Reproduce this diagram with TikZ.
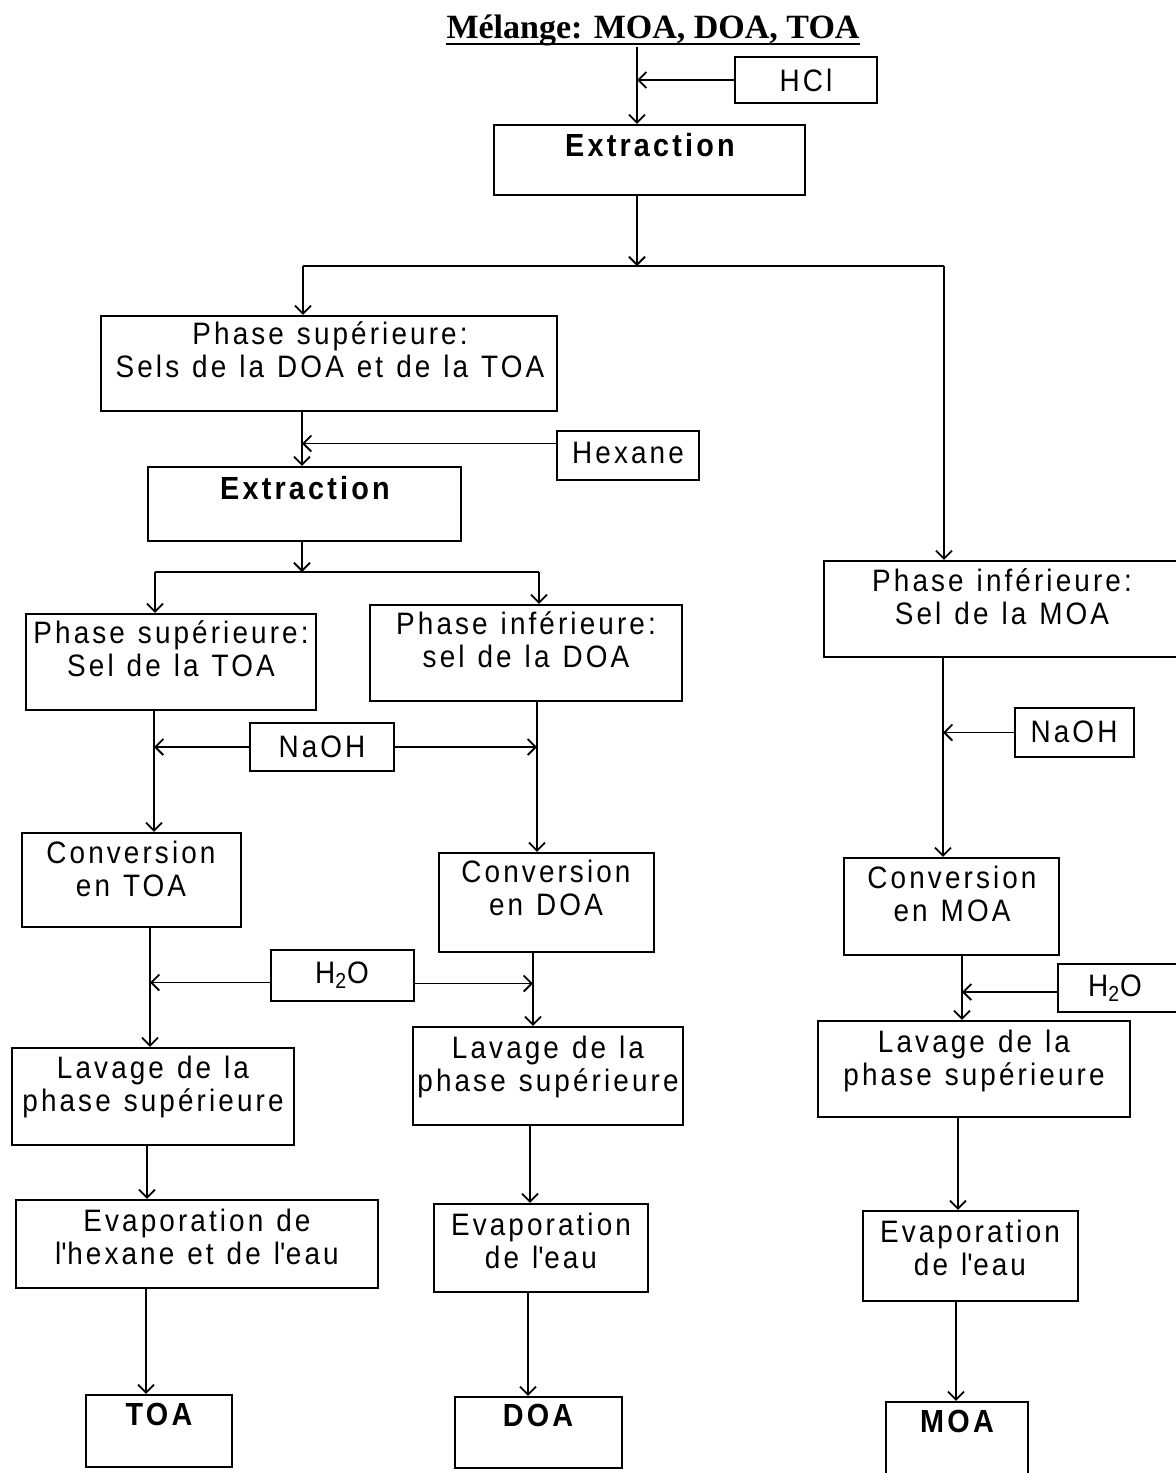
\documentclass[tikz,border=0pt]{standalone}
\usepackage{fontspec}
\setmainfont{Liberation Sans}[LetterSpace=10,FakeStretch=0.9,WordSpace=1.2]
\newfontfamily\titlefont{Liberation Serif}
\usetikzlibrary{arrows.meta,fit}
\tikzset{
  box/.style={draw, line width=1.2pt, inner sep=0pt},
  lab/.style={anchor=base, inner sep=0pt, font=\fontsize{15.5}{16.5}\selectfont},
  blab/.style={anchor=base, inner sep=0pt, font=\fontsize{16}{18}\selectfont\bfseries},
  arr/.style={line width=0.9pt, -{Straight Barb[length=4pt,width=8pt]}},
  ln/.style={line width=0.9pt}
}
\newcommand\twol[2]{\begin{tabular}[t]{@{}c@{}}#1\\#2\end{tabular}}
\newcommand\mkbox[5]{\node[box, fit={(#2,#3) (#4,#5)}] (#1) {};}
\newcommand\apos{\textquotesingle}
\begin{document}
\begin{tikzpicture}[x=0.5pt,y=-0.5pt]
\useasboundingbox (0,0) rectangle (1176,1473);
\clip (0,0) rectangle (1176,1473);
\fill[white] (0,0) rectangle (1176,1473);

% title
\node[anchor=base, inner sep=0pt, font=\titlefont\fontsize{17}{20}\selectfont\bfseries] (title) at (653,38) {Mélange: MOA, DOA, TOA};
\draw[line width=1.4pt] ([yshift=-3pt]title.base west) -- ([yshift=-3pt]title.base east);

% boxes
\mkbox{hcl}{735}{57}{877}{103}
\mkbox{ex1}{494}{125}{805}{195}
\mkbox{ps1}{101}{316}{557}{411}
\mkbox{hex}{557}{431}{699}{480}
\mkbox{ex2}{148}{467}{461}{541}
\mkbox{pstoa}{26}{614}{316}{710}
\mkbox{pidoa}{370}{605}{682}{701}
\mkbox{naoh1}{250}{723}{394}{771}
\mkbox{pimoa}{824}{561}{1200}{657}
\mkbox{naoh2}{1015}{708}{1134}{757}
\mkbox{convtoa}{22}{833}{241}{927}
\mkbox{convdoa}{439}{853}{654}{952}
\mkbox{convmoa}{844}{858}{1059}{955}
\mkbox{h2oa}{271}{950}{414}{1001}
\mkbox{h2ob}{1058}{964}{1200}{1012}
\mkbox{lavtoa}{12}{1048}{294}{1145}
\mkbox{lavdoa}{413}{1027}{683}{1125}
\mkbox{lavmoa}{818}{1021}{1130}{1117}
\mkbox{evtoa}{16}{1200}{378}{1288}
\mkbox{evdoa}{434}{1204}{648}{1292}
\mkbox{evmoa}{863}{1211}{1078}{1301}
\mkbox{toa}{86}{1395}{232}{1467}
\mkbox{doa}{455}{1397}{622}{1468}
\mkbox{moa}{886}{1402}{1028}{1490}

% texts
\node[lab] (hclt) at (806,91) {HCl};
\node[blab] (ex1t) at (650,156) {Extraction};
\node[lab] (ps1t) at (330,344) {\twol{Phase supérieure:}{Sels de la DOA et de la TOA}};
\node[lab] (hext) at (628,463) {Hexane};
\node[blab] (ex2t) at (305,499) {Extraction};
\node[lab] (pstoat) at (171,643) {\twol{Phase supérieure:}{Sel de la TOA}};
\node[lab] (pidoat) at (526,634) {\twol{Phase inférieure:}{sel de la DOA}};
\node[lab] (naoh1t) at (322,757) {NaOH};
\node[lab] (pimoat) at (1002,591) {\twol{Phase inférieure:}{Sel de la MOA}};
\node[lab] (naoh2t) at (1074,742) {NaOH};
\node[lab] (convtoat) at (131,863) {\twol{Conversion}{en TOA}};
\node[lab] (convdoat) at (546,882) {\twol{Conversion}{en DOA}};
\node[lab] (convmoat) at (952,888) {\twol{Conversion}{en MOA}};
\node[lab] (h2oat) at (342,983) {H\textsubscript{2}O};
\node[lab] (h2obt) at (1115,996) {H\textsubscript{2}O};
\node[lab] (lavtoat) at (153,1078) {\twol{Lavage de la}{phase supérieure}};
\node[lab] (lavdoat) at (548,1058) {\twol{Lavage de la}{phase supérieure}};
\node[lab] (lavmoat) at (974,1052) {\twol{Lavage de la}{phase supérieure}};
\node[lab] (evtoat) at (197,1231) {\twol{Evaporation de}{l\apos hexane et de l\apos eau}};
\node[lab] (evdoat) at (541,1235) {\twol{Evaporation}{de l\apos eau}};
\node[lab] (evmoat) at (970,1242) {\twol{Evaporation}{de l\apos eau}};
\node[blab] (toat) at (159,1425) {TOA};
\node[blab] (doat) at (538,1426) {DOA};
\node[blab] (moat) at (957,1432) {MOA};

% connectors: top
\coordinate (t0) at (637,47);
\draw[arr] (t0) -- (ex1.north -| t0);
\draw[arr] (hcl.west) -- (hcl.west -| t0);
\coordinate (j1) at (637,266);
\coordinate (j1l) at (303,266);
\coordinate (j1r) at (944,266);
\draw[arr] (ex1.south -| j1) -- (j1);
\draw[ln] (j1l) -- (j1r);
\draw[arr] (j1l) -- (ps1.north -| j1l);
\draw[arr] (j1r) -- (pimoa.north -| j1r);

% hexane extraction
\coordinate (x2) at (302,0);
\coordinate (hexa) at ([yshift=6pt]hex.west);
\draw[arr] (ps1.south -| x2) -- (ex2.north -| x2);
\draw[arr] (hexa) -- (hexa -| x2);
\coordinate (j2) at (302,572);
\coordinate (j2l) at (155,572);
\coordinate (j2r) at (539,572);
\draw[arr] (ex2.south -| j2) -- (j2);
\draw[ln] (j2l) -- (j2r);
\draw[arr] (j2l) -- (pstoa.north -| j2l);
\draw[arr] (j2r) -- (pidoa.north -| j2r);

% NaOH
\coordinate (xa) at (154,0);
\coordinate (xb) at (537,0);
\draw[arr] (pstoa.south -| xa) -- (convtoa.north -| xa);
\draw[arr] (pidoa.south -| xb) -- (convdoa.north -| xb);
\draw[arr] (naoh1.west) -- (naoh1.west -| xa);
\draw[arr] (naoh1.east) -- (naoh1.east -| xb);

% H2O
\coordinate (xc) at (150,0);
\coordinate (xd) at (533,0);
\coordinate (h2oL) at ([yshift=-3.5pt]h2oa.west);
\coordinate (h2oR) at ([yshift=-4pt]h2oa.east);
\draw[arr] (convtoa.south -| xc) -- (lavtoa.north -| xc);
\draw[arr] (convdoa.south -| xd) -- (lavdoa.north -| xd);
\draw[arr] (h2oL) -- (h2oL -| xc);
\draw[arr] (h2oR) -- (h2oR -| xd);

% lower left / middle
\coordinate (xe) at (147,0);
\coordinate (xf) at (530,0);
\coordinate (xg) at (146,0);
\coordinate (xh) at (528,0);
\draw[arr] (lavtoa.south -| xe) -- (evtoa.north -| xe);
\draw[arr] (lavdoa.south -| xf) -- (evdoa.north -| xf);
\draw[arr] (evtoa.south -| xg) -- (toa.north -| xg);
\draw[arr] (evdoa.south -| xh) -- (doa.north -| xh);

% right column
\coordinate (xi) at (943,0);
\coordinate (xj) at (962,0);
\coordinate (xk) at (958,0);
\coordinate (xl) at (956,0);
\coordinate (h2oM) at ([yshift=-2pt]h2ob.west);
\draw[arr] (pimoa.south -| xi) -- (convmoa.north -| xi);
\draw[arr] (naoh2.west) -- (naoh2.west -| xi);
\draw[arr] (convmoa.south -| xj) -- (lavmoa.north -| xj);
\draw[arr] (h2oM) -- (h2oM -| xj);
\draw[arr] (lavmoa.south -| xk) -- (evmoa.north -| xk);
\draw[arr] (evmoa.south -| xl) -- (moa.north -| xl);
\end{tikzpicture}
\end{document}
